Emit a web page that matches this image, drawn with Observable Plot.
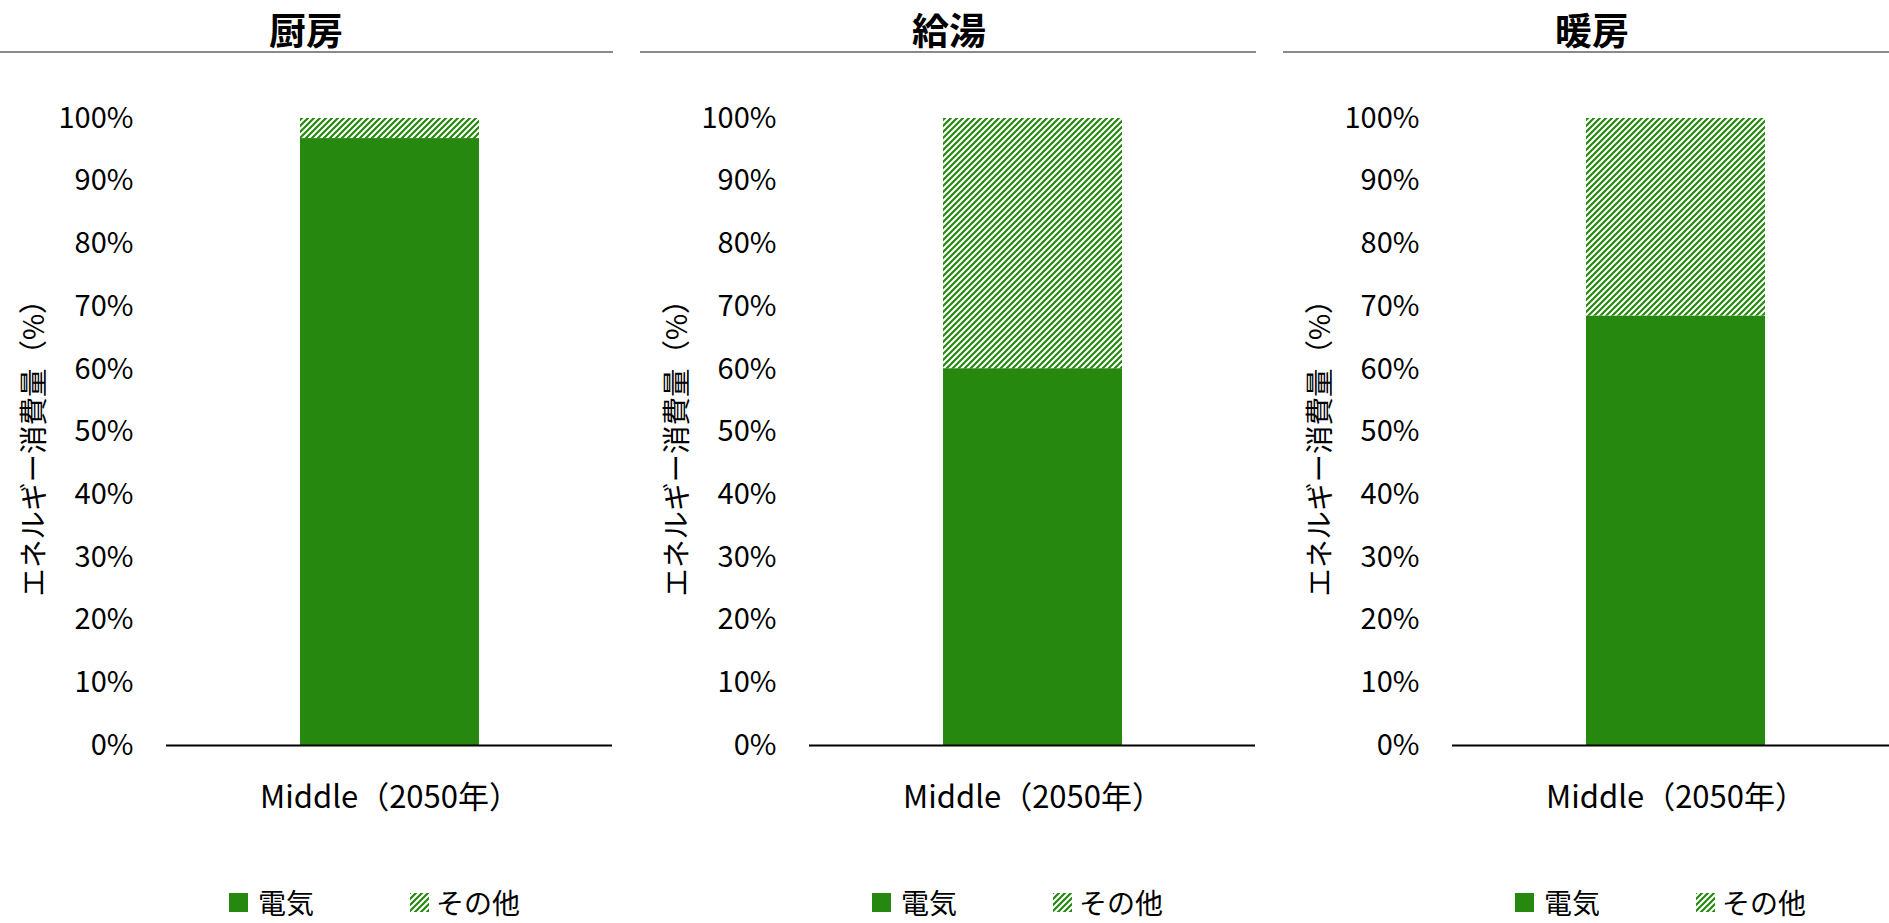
<!DOCTYPE html>
<html><head><meta charset="utf-8">
<script src="https://cdn.jsdelivr.net/npm/d3@7"></script>
<script src="https://cdn.jsdelivr.net/npm/@observablehq/plot@0.6"></script>
<style>
html,body{margin:0;padding:0;background:#fff;overflow:hidden;width:1889px;height:923px;}
body{position:relative;font-family:"Noto Sans CJK JP","Noto Sans",sans-serif;color:#000;}
.panel{position:absolute;top:0;width:643px;height:923px;}
.title{position:absolute;top:6px;left:0;width:612px;text-align:center;font-size:37px;font-weight:bold;line-height:46px;}
.rule{position:absolute;top:51px;left:-3px;width:616px;height:2px;background:#8a8a8a;}
.chart{position:absolute;top:0;left:0;}
.sw{position:absolute;}
.lt{position:absolute;font-size:28px;line-height:28px;top:888px;white-space:nowrap;}
</style>
</head><body>
<svg width="0" height="0" style="position:absolute">
  <defs>
    <pattern id="hatch" patternUnits="userSpaceOnUse" width="6" height="6">
      <rect width="6" height="6" fill="#ffffff"/>
      <path d="M-1.5,1.5 L1.5,-1.5 M0,6 L6,0 M4.5,7.5 L7.5,4.5" stroke="#26880e" stroke-width="2.2"/>
    </pattern>
  </defs>
</svg>
<script>
// ---- data ----
const panels = ["厨房", "給湯", "暖房"];
const categories = ["Middle（2050年）"];
const series = ["電気", "その他"];
const electricity = [96.8, 60.1, 68.5];
const other = [3.2, 39.9, 31.5];
const yTicks = [0, 10, 20, 30, 40, 50, 60, 70, 80, 90, 100];
const yLabel = "エネルギー消費量（%）";
const seriesColors = ["#26880e", "url(#hatch)"];

const panelStep = 643;

panels.forEach((name, i) => {
  const ox = i * panelStep;
  const panel = document.createElement("div");
  panel.className = "panel";
  panel.style.left = ox + "px";
  document.body.appendChild(panel);

  const title = document.createElement("div");
  title.className = "title";
  title.textContent = name;
  panel.appendChild(title);

  const rule = document.createElement("div");
  rule.className = "rule";
  panel.appendChild(rule);

  const rows = [
    {category: categories[0], series: series[0], value: electricity[i]},
    {category: categories[0], series: series[1], value: other[i]}
  ];

  const chart = Plot.plot({
    width: 612,
    height: 830,
    marginLeft: 166,
    marginRight: 0,
    marginTop: 118,
    marginBottom: 85,
    style: {fontFamily: '"Noto Sans CJK JP","Noto Sans",sans-serif', fontSize: "29px", color: "#000", background: "transparent", overflow: "visible"},
    x: {domain: categories, padding: 0.427, axis: null},
    y: {domain: [0, 100], axis: null},
    color: {domain: series, range: seriesColors},
    marks: [
      Plot.axisY(yTicks, {tickSize: 0, tickPadding: 33, tickFormat: d => d + "%", label: null}),
      Plot.axisX({tickSize: 0, tickPadding: 40, label: null, fontSize: 31}),
      Plot.barY(rows, Plot.stackY({x: "category", y: "value", fill: "series"})),
      Plot.ruleY([0], {stroke: "#000", strokeWidth: 2}),
      Plot.text([yLabel], {frameAnchor: "left", textAnchor: "middle", dx: -132, dy: 9, rotate: -90, fontSize: 28.5, text: d => d})
    ]
  });
  chart.classList.add("chart");
  panel.appendChild(chart);

  // legend
  const items = [
    {label: series[0], color: seriesColors[0], sx: 229, tx: 258},
    {label: series[1], color: seriesColors[1], sx: 410, tx: 436}
  ];
  items.forEach(it => {
    const sw = document.createElementNS("http://www.w3.org/2000/svg", "svg");
    sw.setAttribute("width", 19); sw.setAttribute("height", 19);
    sw.setAttribute("class", "sw");
    sw.style.left = it.sx + "px"; sw.style.top = "893px";
    const r = document.createElementNS("http://www.w3.org/2000/svg", "rect");
    r.setAttribute("width", 19); r.setAttribute("height", 19);
    r.setAttribute("fill", it.color);
    sw.appendChild(r);
    panel.appendChild(sw);
    const t = document.createElement("div");
    t.className = "lt";
    t.style.left = it.tx + "px";
    t.textContent = it.label;
    panel.appendChild(t);
  });
});
</script>
</body></html>
